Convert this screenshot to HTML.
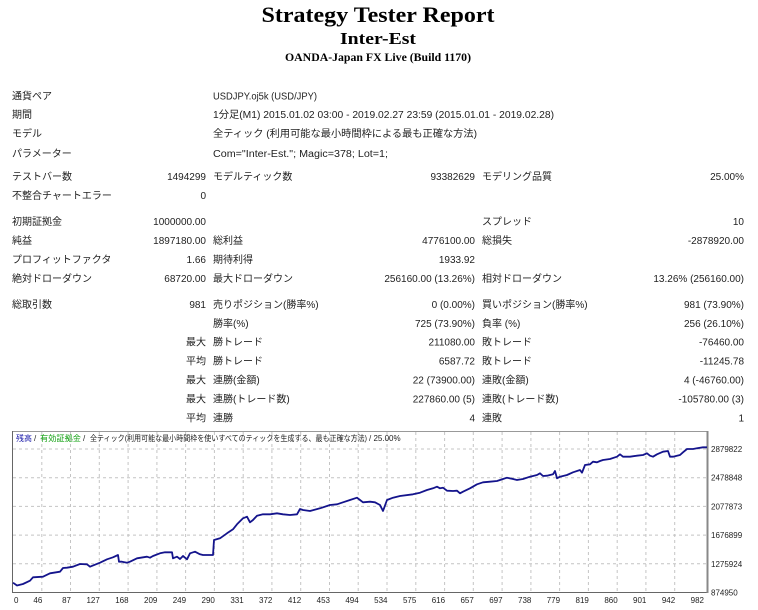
<!DOCTYPE html>
<html><head><meta charset="utf-8">
<style>
html,body{margin:0;padding:0;background:#fff;}
svg{display:block;}
text{font-family:"Liberation Sans","Noto Sans CJK JP",sans-serif;fill:#222;}
.t{font-size:10px;}
.e{text-anchor:end;}
.ti{font-family:"Liberation Serif","Noto Serif CJK SC",serif;font-weight:bold;fill:#000;text-anchor:middle;}
.ax{font-size:8px;fill:#222;}
.lg{font-size:8px;}
</style></head>
<body>
<svg width="758" height="610" viewBox="0 0 758 610" xmlns="http://www.w3.org/2000/svg">
<rect width="758" height="610" fill="#fff"/>
<text class="ti" x="378" y="22" font-size="22" textLength="233" lengthAdjust="spacingAndGlyphs">Strategy Tester Report</text>
<text class="ti" x="378" y="44" font-size="17" textLength="76" lengthAdjust="spacingAndGlyphs">Inter-Est</text>
<text class="ti" x="378" y="61" font-size="12" textLength="186" lengthAdjust="spacingAndGlyphs">OANDA-Japan FX Live (Build 1170)</text>

<!-- rows -->
<g class="t">
<text class="t" x="12" y="99.7">通貨ペア</text>
<text class="t" x="213" y="99.7" textLength="104" lengthAdjust="spacingAndGlyphs">USDJPY.oj5k (USD/JPY)</text>
<text class="t" x="12" y="118.2">期間</text>
<text class="t" x="213" y="118.2" textLength="341" lengthAdjust="spacingAndGlyphs">1分足(M1) 2015.01.02 03:00 - 2019.02.27 23:59 (2015.01.01 - 2019.02.28)</text>
<text class="t" x="12" y="137.2">モデル</text>
<text class="t" x="213" y="137.2" textLength="264" lengthAdjust="spacingAndGlyphs">全ティック (利用可能な最小時間枠による最も正確な方法)</text>
<text class="t" x="12" y="157.2">パラメーター</text>
<text class="t" x="213" y="157.2" textLength="175" lengthAdjust="spacingAndGlyphs">Com="Inter-Est."; Magic=378; Lot=1;</text>

<text class="t" x="12" y="180.2">テストバー数</text>
<text class="t e" x="206" y="180.2">1494299</text>
<text class="t" x="213" y="180.2">モデルティック数</text>
<text class="t e" x="475" y="180.2">93382629</text>
<text class="t" x="482" y="180.2">モデリング品質</text>
<text class="t e" x="744" y="180.2">25.00%</text>

<text class="t" x="12" y="199.2">不整合チャートエラー</text>
<text class="t e" x="206" y="199.2">0</text>

<text class="t" x="12" y="225.2">初期証拠金</text>
<text class="t e" x="206" y="225.2">1000000.00</text>
<text class="t" x="482" y="225.2">スプレッド</text>
<text class="t e" x="744" y="225.2">10</text>

<text class="t" x="12" y="244.2">純益</text>
<text class="t e" x="206" y="244.2">1897180.00</text>
<text class="t" x="213" y="244.2">総利益</text>
<text class="t e" x="475" y="244.2">4776100.00</text>
<text class="t" x="482" y="244.2">総損失</text>
<text class="t e" x="744" y="244.2">-2878920.00</text>

<text class="t" x="12" y="263.2">プロフィットファクタ</text>
<text class="t e" x="206" y="263.2">1.66</text>
<text class="t" x="213" y="263.2">期待利得</text>
<text class="t e" x="475" y="263.2">1933.92</text>

<text class="t" x="12" y="282.2">絶対ドローダウン</text>
<text class="t e" x="206" y="282.2">68720.00</text>
<text class="t" x="213" y="282.2">最大ドローダウン</text>
<text class="t e" x="475" y="282.2">256160.00 (13.26%)</text>
<text class="t" x="482" y="282.2">相対ドローダウン</text>
<text class="t e" x="744" y="282.2">13.26% (256160.00)</text>

<text class="t" x="12" y="308.2">総取引数</text>
<text class="t e" x="206" y="308.2">981</text>
<text class="t" x="213" y="308.2">売りポジション(勝率%)</text>
<text class="t e" x="475" y="308.2">0 (0.00%)</text>
<text class="t" x="482" y="308.2">買いポジション(勝率%)</text>
<text class="t e" x="744" y="308.2">981 (73.90%)</text>

<text class="t" x="213" y="327.2">勝率(%)</text>
<text class="t e" x="475" y="327.2">725 (73.90%)</text>
<text class="t" x="482" y="327.2">負率 (%)</text>
<text class="t e" x="744" y="327.2">256 (26.10%)</text>

<text class="t e" x="206" y="345.7">最大</text>
<text class="t" x="213" y="345.7">勝トレード</text>
<text class="t e" x="475" y="345.7">211080.00</text>
<text class="t" x="482" y="345.7">敗トレード</text>
<text class="t e" x="744" y="345.7">-76460.00</text>

<text class="t e" x="206" y="364.7">平均</text>
<text class="t" x="213" y="364.7">勝トレード</text>
<text class="t e" x="475" y="364.7">6587.72</text>
<text class="t" x="482" y="364.7">敗トレード</text>
<text class="t e" x="744" y="364.7">-11245.78</text>

<text class="t e" x="206" y="383.7">最大</text>
<text class="t" x="213" y="383.7">連勝(金額)</text>
<text class="t e" x="475" y="383.7">22 (73900.00)</text>
<text class="t" x="482" y="383.7">連敗(金額)</text>
<text class="t e" x="744" y="383.7">4 (-46760.00)</text>

<text class="t e" x="206" y="402.7">最大</text>
<text class="t" x="213" y="402.7">連勝(トレード数)</text>
<text class="t e" x="475" y="402.7">227860.00 (5)</text>
<text class="t" x="482" y="402.7">連敗(トレード数)</text>
<text class="t e" x="744" y="402.7">-105780.00 (3)</text>

<text class="t e" x="206" y="421.7">平均</text>
<text class="t" x="213" y="421.7">連勝</text>
<text class="t e" x="475" y="421.7">4</text>
<text class="t" x="482" y="421.7">連敗</text>
<text class="t e" x="744" y="421.7">1</text>
</g>

<!-- chart -->
<rect x="13" y="431.5" width="694" height="161" fill="#fff"/>
<g stroke="#c4c4c4" stroke-width="1" stroke-dasharray="3,3" fill="none">
<line x1="13" y1="449" x2="707" y2="449"/>
<line x1="13" y1="477.7" x2="707" y2="477.7"/>
<line x1="13" y1="506.4" x2="707" y2="506.4"/>
<line x1="13" y1="535.1" x2="707" y2="535.1"/>
<line x1="13" y1="563.8" x2="707" y2="563.8"/>
<line x1="41.8" y1="432" x2="41.8" y2="592"/>
<line x1="70.5" y1="432" x2="70.5" y2="592"/>
<line x1="99.3" y1="432" x2="99.3" y2="592"/>
<line x1="128.1" y1="432" x2="128.1" y2="592"/>
<line x1="156.9" y1="432" x2="156.9" y2="592"/>
<line x1="185.6" y1="432" x2="185.6" y2="592"/>
<line x1="214.4" y1="432" x2="214.4" y2="592"/>
<line x1="243.2" y1="432" x2="243.2" y2="592"/>
<line x1="271.9" y1="432" x2="271.9" y2="592"/>
<line x1="300.7" y1="432" x2="300.7" y2="592"/>
<line x1="329.5" y1="432" x2="329.5" y2="592"/>
<line x1="358.2" y1="432" x2="358.2" y2="592"/>
<line x1="387" y1="432" x2="387" y2="592"/>
<line x1="415.8" y1="432" x2="415.8" y2="592"/>
<line x1="444.6" y1="432" x2="444.6" y2="592"/>
<line x1="473.3" y1="432" x2="473.3" y2="592"/>
<line x1="502.1" y1="432" x2="502.1" y2="592"/>
<line x1="530.9" y1="432" x2="530.9" y2="592"/>
<line x1="559.6" y1="432" x2="559.6" y2="592"/>
<line x1="588.4" y1="432" x2="588.4" y2="592"/>
<line x1="617.2" y1="432" x2="617.2" y2="592"/>
<line x1="645.9" y1="432" x2="645.9" y2="592"/>
<line x1="674.7" y1="432" x2="674.7" y2="592"/>
</g>
<!-- frame -->
<line x1="12.5" y1="431.5" x2="708" y2="431.5" stroke="#999" stroke-width="1"/>
<line x1="12.5" y1="431" x2="12.5" y2="593" stroke="#666" stroke-width="1"/>
<line x1="12" y1="592.5" x2="708" y2="592.5" stroke="#666" stroke-width="1"/>
<line x1="707.5" y1="431" x2="707.5" y2="593" stroke="#888" stroke-width="2"/>

<!-- legend -->
<text class="lg" x="16" y="441" fill="#0000b0" style="fill:#1818a8" textLength="16" lengthAdjust="spacingAndGlyphs">残高</text>
<text class="lg" x="34" y="441">/</text>
<text class="lg" x="40" y="441" style="fill:#10a010" textLength="41" lengthAdjust="spacingAndGlyphs">有効証拠金</text>
<text class="lg" x="83" y="441">/</text>
<text class="lg" x="90" y="441" textLength="277" lengthAdjust="spacingAndGlyphs">全ティック(利用可能な最小時間枠を使いすべてのティックを生成する、最も正確な方法)</text>
<text class="lg" x="369" y="441">/ 25.00%</text>

<!-- equity curve -->
<polyline fill="none" stroke="#14148c" stroke-width="1.8" stroke-linejoin="round" points="13,582.7 17,585.5 23,584 30,580.7 33,577.3 43,576.7 50,573.3 60,571.7 63,568 67,567.7 73,566.7 80,564 87,564.3 90,566.7 100,562.7 107,559.3 113,557.3 118,555 119,561.7 122,561.7 127,562.7 130,561.7 137,558.3 147,556.7 150,557.7 153,556 160,553.3 165,552.3 172,552.3 173,558.3 177,556.7 180,559 183,556 187,559.3 190,553.3 195,551.7 200,554.3 203,555 213,555 214,540 220,538.3 227,533.3 233,529.3 237,524.3 243,518.3 247,516.7 250,522.3 253,520 257,515.7 263,514.3 270,514.3 277,513.3 283,514.3 290,515 297,514.3 300,509 303,510 310,511 320,508.3 330,505 337,504.3 343,502.3 350,500 357,497.7 360,500 363,502.3 370,501.7 375,502.3 380,505 383,511 387,500 393,497.7 400,496 413,494.3 420,492.7 427,490 433,488.3 437,486.7 440,488.3 443,487.7 447,490.7 453,491 457,490.7 460,493.3 463,491.7 470,488.3 477,484.3 483,482.3 490,481.7 497,481 503,479 507,477.7 513,479 517,480 523,479 530,476.7 537,475 540,473.3 543,476 547,475.7 553,474.3 555,471 557,478.3 560,476.7 567,475 573,472.3 580,470 582,472.7 585,465 590,464.3 593,461.7 597,462.3 600,461 603,460 610,459 617,456.7 620,454.3 623,456.7 630,456.7 637,455.7 643,455 647,453.3 650,455.7 653,456.7 657,454.3 663,451.7 668,451 670,456.7 673,456.7 677,455.7 680,455 683,452.3 687,449 693,449 697,448.3 703,447.3 707,447.3"/>

<!-- y axis labels -->
<g class="ax">
<text class="ax" x="711" y="452">2879822</text>
<text class="ax" x="711" y="480.7">2478848</text>
<text class="ax" x="711" y="509.4">2077873</text>
<text class="ax" x="711" y="538.1">1676899</text>
<text class="ax" x="711" y="566.8">1275924</text>
<text class="ax" x="711" y="595.5">874950</text>
</g>

<!-- x axis labels -->
<g>
<text class="ax" x="14" y="603">0</text>
<text class="ax e" x="42.3" y="603">46</text>
<text class="ax e" x="71" y="603">87</text>
<text class="ax e" x="99.8" y="603">127</text>
<text class="ax e" x="128.6" y="603">168</text>
<text class="ax e" x="157.4" y="603">209</text>
<text class="ax e" x="186.1" y="603">249</text>
<text class="ax e" x="214.9" y="603">290</text>
<text class="ax e" x="243.7" y="603">331</text>
<text class="ax e" x="272.4" y="603">372</text>
<text class="ax e" x="301.2" y="603">412</text>
<text class="ax e" x="330" y="603">453</text>
<text class="ax e" x="358.7" y="603">494</text>
<text class="ax e" x="387.5" y="603">534</text>
<text class="ax e" x="416.3" y="603">575</text>
<text class="ax e" x="445.1" y="603">616</text>
<text class="ax e" x="473.8" y="603">657</text>
<text class="ax e" x="502.6" y="603">697</text>
<text class="ax e" x="531.4" y="603">738</text>
<text class="ax e" x="560.1" y="603">779</text>
<text class="ax e" x="588.9" y="603">819</text>
<text class="ax e" x="617.7" y="603">860</text>
<text class="ax e" x="646.4" y="603">901</text>
<text class="ax e" x="675.2" y="603">942</text>
<text class="ax e" x="704" y="603">982</text>
</g>
</svg>
</body></html>
